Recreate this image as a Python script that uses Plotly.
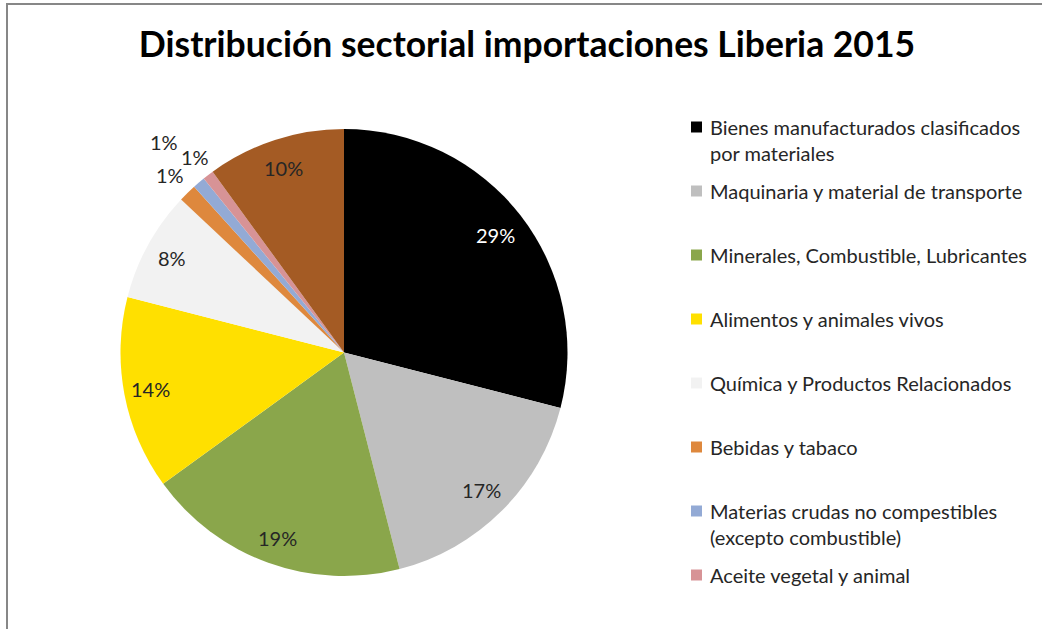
import math
import plotly.graph_objects as go

# ---- data ----
labels = [
    "Bienes manufacturados clasificados<br>por materiales",
    "Maquinaria y material de transporte",
    "Minerales, Combustible, Lubricantes",
    "Alimentos y animales vivos",
    "Química y Productos Relacionados",
    "Bebidas y tabaco",
    "Materias crudas no compestibles<br>(excepto combustible)",
    "Aceite vegetal y animal",
    "Otros",
]
values = [29.0, 17.0, 19.0, 14.0, 8.0, 1.3, 0.9, 0.8, 10.0]
legend_count = 8  # only the first 8 items are visible in the legend

# ---- styles ----
colors = ["#000000", "#BFBFBF", "#8AA64B", "#FFE000", "#F2F2F2",
          "#DE883D", "#93AAD5", "#D79396", "#A45B24"]
text_colors = ["#FFFFFF"] + ["#262626"] * 8
label_radius = [0.86, 0.87, 0.88, 0.88, 0.88, 1.11, 1.24, 1.10, 0.87]

W, H = 1042, 629
FONT = "Lato, 'Open Sans', sans-serif"
PX0, PX1, PY0, PY1 = 120, 568, 129, 576  # pie box in pixels (left, right, top, bottom)

fig = go.Figure()
fig.add_trace(go.Pie(
    labels=labels,
    values=values,
    sort=False,
    direction="clockwise",
    rotation=0,
    marker=dict(colors=colors, line=dict(width=0)),
    textinfo="none",
    showlegend=False,
    hoverinfo="label+percent",
    domain=dict(x=[PX0 / W, PX1 / W], y=[1 - PY1 / H, 1 - PY0 / H]),
))

shapes = []
annotations = []

# percentage labels, placed along each slice's mid-angle
cx = (PX0 + PX1) / 2
cy = (PY0 + PY1) / 2
R = min(PX1 - PX0, PY1 - PY0) / 2
total = sum(values)
cum = 0.0
for v, f, tc in zip(values, label_radius, text_colors):
    mid = (cum + v / 2) / total * 2 * math.pi
    cum += v
    px = cx + f * R * math.sin(mid)
    py = cy - f * R * math.cos(mid)
    annotations.append(dict(text=f"{round(v / total * 100)}%", xref="paper", yref="paper",
                            x=px / W, y=1 - py / H, xanchor="center", yanchor="middle",
                            showarrow=False,
                            font=dict(size=20, color=tc, family=FONT)))

# custom legend (first 8 categories)
for i in range(legend_count):
    yc = 127 + 64 * i
    shapes.append(dict(type="rect", xref="paper", yref="paper",
                       x0=691 / W, x1=702 / W,
                       y0=1 - (yc + 5.5) / H, y1=1 - (yc - 5.5) / H,
                       fillcolor=colors[i], line=dict(width=0)))
    for k, line in enumerate(labels[i].split("<br>")):
        annotations.append(dict(text=line, xref="paper", yref="paper",
                                x=708 / W, y=1 - (yc + 26 * k) / H,
                                xanchor="left", yanchor="middle",
                                showarrow=False,
                                font=dict(size=20, color="#262626", family=FONT)))

# frame
shapes.append(dict(type="rect", xref="paper", yref="paper",
                   x0=7 / W, x1=1.05, y0=-0.05, y1=1 - 4 / H,
                   line=dict(color="#878787", width=2), layer="below"))

fig.update_layout(
    width=W, height=H,
    margin=dict(l=0, r=0, t=0, b=0),
    paper_bgcolor="white",
    plot_bgcolor="white",
    title=dict(text="<b>Distribución sectorial importaciones Liberia 2015</b>",
               x=527 / W, xanchor="center", y=1 - 45 / H, yanchor="middle",
               font=dict(size=35.5, color="#000000", family=FONT)),
    shapes=shapes,
    annotations=annotations,
)

fig.write_html("out.html",
               config={"displayModeBar": False},
               post_script="document.body.style.margin='0';document.body.style.overflow='hidden';")
